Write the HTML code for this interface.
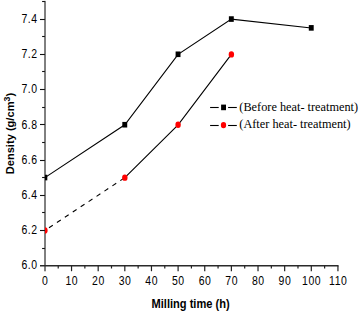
<!DOCTYPE html>
<html><head><meta charset="utf-8"><style>
html,body{margin:0;padding:0;background:#fff;}
svg{display:block;}
.t{font-family:"Liberation Sans",sans-serif;font-size:13.6px;fill:#000;letter-spacing:0.7px;}
.b{font-family:"Liberation Sans",sans-serif;font-size:12.2px;font-weight:bold;fill:#000;}
.s{font-family:"Liberation Serif",serif;font-size:12.3px;fill:#000;}
</style></head><body>
<svg width="360" height="315" viewBox="0 0 360 315">
<rect width="360" height="315" fill="#fff"/>
<line x1="45" y1="0.9" x2="45" y2="271.3" stroke="#000" stroke-width="1.0"/>
<line x1="40.0" y1="265.85" x2="338.54" y2="265.85" stroke="#2a2a2a" stroke-width="1.5"/>
<line x1="42.1" y1="248.50" x2="44.9" y2="248.50" stroke="#111" stroke-width="1.1"/>
<line x1="40.0" y1="230.50" x2="44.9" y2="230.50" stroke="#111" stroke-width="1.1"/>
<line x1="42.1" y1="212.50" x2="44.9" y2="212.50" stroke="#111" stroke-width="1.1"/>
<line x1="40.0" y1="195.50" x2="44.9" y2="195.50" stroke="#111" stroke-width="1.1"/>
<line x1="42.1" y1="177.50" x2="44.9" y2="177.50" stroke="#111" stroke-width="1.1"/>
<line x1="40.0" y1="160.50" x2="44.9" y2="160.50" stroke="#111" stroke-width="1.1"/>
<line x1="42.1" y1="142.50" x2="44.9" y2="142.50" stroke="#111" stroke-width="1.1"/>
<line x1="40.0" y1="124.50" x2="44.9" y2="124.50" stroke="#111" stroke-width="1.1"/>
<line x1="42.1" y1="107.50" x2="44.9" y2="107.50" stroke="#111" stroke-width="1.1"/>
<line x1="40.0" y1="89.50" x2="44.9" y2="89.50" stroke="#111" stroke-width="1.1"/>
<line x1="42.1" y1="71.50" x2="44.9" y2="71.50" stroke="#111" stroke-width="1.1"/>
<line x1="40.0" y1="54.50" x2="44.9" y2="54.50" stroke="#111" stroke-width="1.1"/>
<line x1="42.1" y1="36.50" x2="44.9" y2="36.50" stroke="#111" stroke-width="1.1"/>
<line x1="40.0" y1="19.50" x2="44.9" y2="19.50" stroke="#111" stroke-width="1.1"/>
<line x1="42.1" y1="1.50" x2="44.9" y2="1.50" stroke="#111" stroke-width="1.1"/>
<line x1="58.22" y1="265.7" x2="58.22" y2="268.5" stroke="#222" stroke-width="1.2"/>
<line x1="71.54" y1="265.7" x2="71.54" y2="271.2" stroke="#222" stroke-width="1.2"/>
<line x1="84.86" y1="265.7" x2="84.86" y2="268.5" stroke="#222" stroke-width="1.2"/>
<line x1="98.18" y1="265.7" x2="98.18" y2="271.2" stroke="#222" stroke-width="1.2"/>
<line x1="111.50" y1="265.7" x2="111.50" y2="268.5" stroke="#222" stroke-width="1.2"/>
<line x1="124.82" y1="265.7" x2="124.82" y2="271.2" stroke="#222" stroke-width="1.2"/>
<line x1="138.14" y1="265.7" x2="138.14" y2="268.5" stroke="#222" stroke-width="1.2"/>
<line x1="151.46" y1="265.7" x2="151.46" y2="271.2" stroke="#222" stroke-width="1.2"/>
<line x1="164.78" y1="265.7" x2="164.78" y2="268.5" stroke="#222" stroke-width="1.2"/>
<line x1="178.10" y1="265.7" x2="178.10" y2="271.2" stroke="#222" stroke-width="1.2"/>
<line x1="191.42" y1="265.7" x2="191.42" y2="268.5" stroke="#222" stroke-width="1.2"/>
<line x1="204.74" y1="265.7" x2="204.74" y2="271.2" stroke="#222" stroke-width="1.2"/>
<line x1="218.06" y1="265.7" x2="218.06" y2="268.5" stroke="#222" stroke-width="1.2"/>
<line x1="231.38" y1="265.7" x2="231.38" y2="271.2" stroke="#222" stroke-width="1.2"/>
<line x1="244.70" y1="265.7" x2="244.70" y2="268.5" stroke="#222" stroke-width="1.2"/>
<line x1="258.02" y1="265.7" x2="258.02" y2="271.2" stroke="#222" stroke-width="1.2"/>
<line x1="271.34" y1="265.7" x2="271.34" y2="268.5" stroke="#222" stroke-width="1.2"/>
<line x1="284.66" y1="265.7" x2="284.66" y2="271.2" stroke="#222" stroke-width="1.2"/>
<line x1="297.98" y1="265.7" x2="297.98" y2="268.5" stroke="#222" stroke-width="1.2"/>
<line x1="311.30" y1="265.7" x2="311.30" y2="271.2" stroke="#222" stroke-width="1.2"/>
<line x1="324.62" y1="265.7" x2="324.62" y2="268.5" stroke="#222" stroke-width="1.2"/>
<line x1="337.94" y1="265.7" x2="337.94" y2="271.2" stroke="#222" stroke-width="1.2"/>
<text transform="translate(37.55,269.40) scale(0.77,1)" text-anchor="end" class="t">6.0</text>
<text transform="translate(37.55,234.18) scale(0.77,1)" text-anchor="end" class="t">6.2</text>
<text transform="translate(37.55,198.96) scale(0.77,1)" text-anchor="end" class="t">6.4</text>
<text transform="translate(37.55,163.74) scale(0.77,1)" text-anchor="end" class="t">6.6</text>
<text transform="translate(37.55,128.52) scale(0.77,1)" text-anchor="end" class="t">6.8</text>
<text transform="translate(37.55,93.30) scale(0.77,1)" text-anchor="end" class="t">7.0</text>
<text transform="translate(37.55,58.08) scale(0.77,1)" text-anchor="end" class="t">7.2</text>
<text transform="translate(37.55,22.86) scale(0.77,1)" text-anchor="end" class="t">7.4</text>
<text transform="translate(45.17,285) scale(0.77,1)" text-anchor="middle" class="t">0</text>
<text transform="translate(71.81,285) scale(0.77,1)" text-anchor="middle" class="t">10</text>
<text transform="translate(98.45,285) scale(0.77,1)" text-anchor="middle" class="t">20</text>
<text transform="translate(125.09,285) scale(0.77,1)" text-anchor="middle" class="t">30</text>
<text transform="translate(151.73,285) scale(0.77,1)" text-anchor="middle" class="t">40</text>
<text transform="translate(178.37,285) scale(0.77,1)" text-anchor="middle" class="t">50</text>
<text transform="translate(205.01,285) scale(0.77,1)" text-anchor="middle" class="t">60</text>
<text transform="translate(231.65,285) scale(0.77,1)" text-anchor="middle" class="t">70</text>
<text transform="translate(258.29,285) scale(0.77,1)" text-anchor="middle" class="t">80</text>
<text transform="translate(284.93,285) scale(0.77,1)" text-anchor="middle" class="t">90</text>
<text transform="translate(311.57,285) scale(0.77,1)" text-anchor="middle" class="t">100</text>
<text transform="translate(338.21,285) scale(0.77,1)" text-anchor="middle" class="t">110</text>
<text transform="translate(190.6,307.7) scale(0.91,1)" text-anchor="middle" class="b">Milling time (h)</text>
<text transform="translate(14.0,133.6) rotate(-90) scale(0.975,0.92)" text-anchor="middle" class="b" style="font-size:11.4px">Density (g/cm<tspan dy="-4.4" font-size="9">3</tspan><tspan dy="4.4">)</tspan></text>
<polyline points="44.90,177.65 124.82,124.82 178.10,54.38 231.38,19.16 311.30,27.97" fill="none" stroke="#000" stroke-width="1.1"/>
<line x1="44.90" y1="230.48" x2="124.82" y2="177.65" stroke="#000" stroke-width="1.1" stroke-dasharray="4.6 4.9" stroke-dashoffset="-4.9"/>
<polyline points="124.82,177.65 178.10,124.82 231.38,54.38" fill="none" stroke="#000" stroke-width="1.1"/>
<clipPath id="c"><rect x="45" y="0" width="320" height="266"/></clipPath>
<g clip-path="url(#c)">
<rect x="42.40" y="174.75" width="4.9" height="5.6" fill="#000"/>
<rect x="122.32" y="121.92" width="4.9" height="5.6" fill="#000"/>
<rect x="175.60" y="51.48" width="4.9" height="5.6" fill="#000"/>
<rect x="228.88" y="16.26" width="4.9" height="5.6" fill="#000"/>
<rect x="308.80" y="25.07" width="4.9" height="5.6" fill="#000"/>
<ellipse cx="44.90" cy="230.48" rx="2.7" ry="3.2" fill="#f00"/>
<ellipse cx="124.82" cy="177.65" rx="2.7" ry="3.2" fill="#f00"/>
<ellipse cx="178.10" cy="124.82" rx="2.7" ry="3.2" fill="#f00"/>
<ellipse cx="231.38" cy="54.38" rx="2.7" ry="3.2" fill="#f00"/>
</g>
<line x1="210.1" y1="107.5" x2="218.7" y2="107.5" stroke="#000" stroke-width="1.1"/>
<line x1="228.1" y1="107.5" x2="236.8" y2="107.5" stroke="#000" stroke-width="1.1"/>
<rect x="221.1" y="104.6" width="4.9" height="5.6" fill="#000"/>
<line x1="210.1" y1="125.5" x2="218.7" y2="125.5" stroke="#000" stroke-width="1.1"/>
<line x1="228.1" y1="125.5" x2="236.8" y2="125.5" stroke="#000" stroke-width="1.1"/>
<ellipse cx="223.5" cy="125.1" rx="2.65" ry="3.2" fill="#f00"/>
<text x="239.3" y="111.3" class="s">(Before heat- treatment)</text>
<text x="239.3" y="128" class="s">(After heat- treatment)</text>
</svg>
</body></html>
